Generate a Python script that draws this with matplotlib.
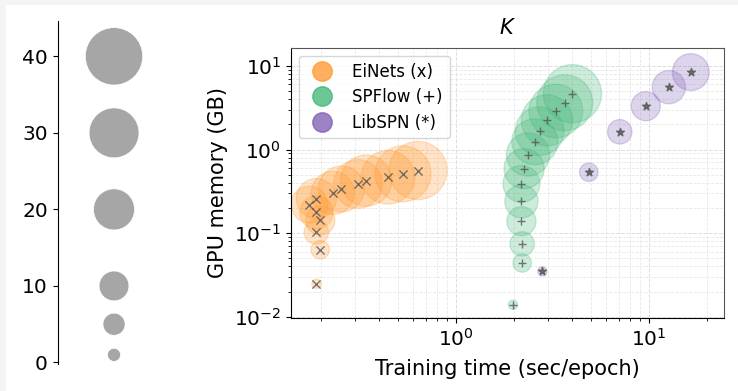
import numpy as np
import matplotlib
matplotlib.use("Agg")
import matplotlib.pyplot as plt
from matplotlib.lines import Line2D
from matplotlib.patches import Rectangle

# K values used for each library
k_values = [1, 4, 7, 10, 13, 16, 19, 22, 25, 28, 31, 34, 37, 40]

# EiNets
einet_time = [0.190, 0.199, 0.190, 0.199, 0.190, 0.175, 0.190, 0.231, 0.256, 0.312, 0.344, 0.446, 0.533, 0.638]
einet_mem = [0.0248, 0.0634, 0.103, 0.142, 0.177, 0.220, 0.259, 0.303, 0.338, 0.388, 0.425, 0.466, 0.512, 0.561]

# SPFlow
spflow_time = [1.98, 2.21, 2.21, 2.19, 2.19, 2.19, 2.26, 2.37, 2.57, 2.72, 2.97, 3.30, 3.67, 4.02]
spflow_mem = [0.0139, 0.044, 0.0743, 0.139, 0.240, 0.388, 0.592, 0.871, 1.24, 1.66, 2.23, 2.88, 3.62, 4.65]

# LibSPN (only small K)
libspn_k = [1, 4, 7, 10, 13, 16]
libspn_time = [2.81, 4.89, 7.07, 9.64, 12.7, 16.5]
libspn_mem = [0.0349, 0.535, 1.63, 3.30, 5.57, 8.43]

# size legend on the left
size_legend_k = [1, 5, 10, 20, 30, 40]

size_scale = 44.0

c_orange = "#ff9628"
c_green = "#3cb473"
c_purple = "#7a5ab4"

fig = plt.figure(figsize=(7.38, 3.91), dpi=100)

# grey strips on the top and left edge of the original screenshot
fig.patches.append(Rectangle((0, 1 - 5 / 391), 1, 5 / 391, transform=fig.transFigure,
                             facecolor="#f4f4f4", edgecolor="none", zorder=-1))
fig.patches.append(Rectangle((0, 0), 6 / 738, 1, transform=fig.transFigure,
                             facecolor="#f4f4f4", edgecolor="none", zorder=-1))

# ---- size legend ----
ax_s = fig.add_axes([0.078, 0.069, 0.153, 0.877])
ax_s.scatter(np.zeros(len(size_legend_k)), size_legend_k,
             s=[41.5 * k + 47 for k in size_legend_k], color="#a6a6a6",
             edgecolors="white", linewidths=0.5)
ax_s.set_xlim(-1, 1)
ax_s.set_ylim(-0.2, 44.6)
ax_s.set_yticks([0, 10, 20, 30, 40])
ax_s.set_xticks([])
for side in ["top", "right", "bottom"]:
    ax_s.spines[side].set_visible(False)
ax_s.tick_params(axis="y", labelsize=14.5)

# ---- main plot ----
ax = fig.add_axes([0.394, 0.187, 0.587, 0.691])
ax.set_xscale("log")
ax.set_yscale("log")

for t, m, ks, col, mk in [
    (einet_time, einet_mem, k_values, c_orange, "x"),
    (spflow_time, spflow_mem, k_values, c_green, "+"),
    (libspn_time, libspn_mem, libspn_k, c_purple, "*"),
]:
    ax.scatter(t, m, s=[size_scale * k for k in ks], color=col, alpha=0.25,
               edgecolors=col, linewidths=1, zorder=2)
    ax.scatter(t, m, s=35, marker=mk, color="#555555", alpha=0.8,
               linewidths=1, zorder=3)

ax.set_xlim(0.14, 24.5)
ax.set_ylim(0.0097, 16.5)
ax.grid(True, which="major", linestyle="--", color="#dddddd", linewidth=0.7)
ax.grid(True, which="minor", linestyle="--", color="#e8e8e8", linewidth=0.6)
ax.set_axisbelow(True)
for side in ["top", "right"]:
    ax.spines[side].set_color("#555555")

ax.tick_params(axis="both", which="major", labelsize=14.5)
ax.set_xlabel("Training time (sec/epoch)", fontsize=15, labelpad=7)
ax.set_ylabel("GPU memory (GB)", fontsize=15)
ax.set_title("$K$", fontsize=15, pad=10)

handles = [
    Line2D([], [], marker="o", linestyle="", markersize=14, color=c_orange, alpha=0.75),
    Line2D([], [], marker="o", linestyle="", markersize=14, color=c_green, alpha=0.75),
    Line2D([], [], marker="o", linestyle="", markersize=14, color=c_purple, alpha=0.75),
]
ax.legend(handles, ["EiNets (x)", "SPFlow (+)", "LibSPN (*)"], loc="upper left",
          fontsize=12, handletextpad=0.8, borderpad=0.4, labelspacing=0.45)

plt.savefig("out.png", dpi=100)
